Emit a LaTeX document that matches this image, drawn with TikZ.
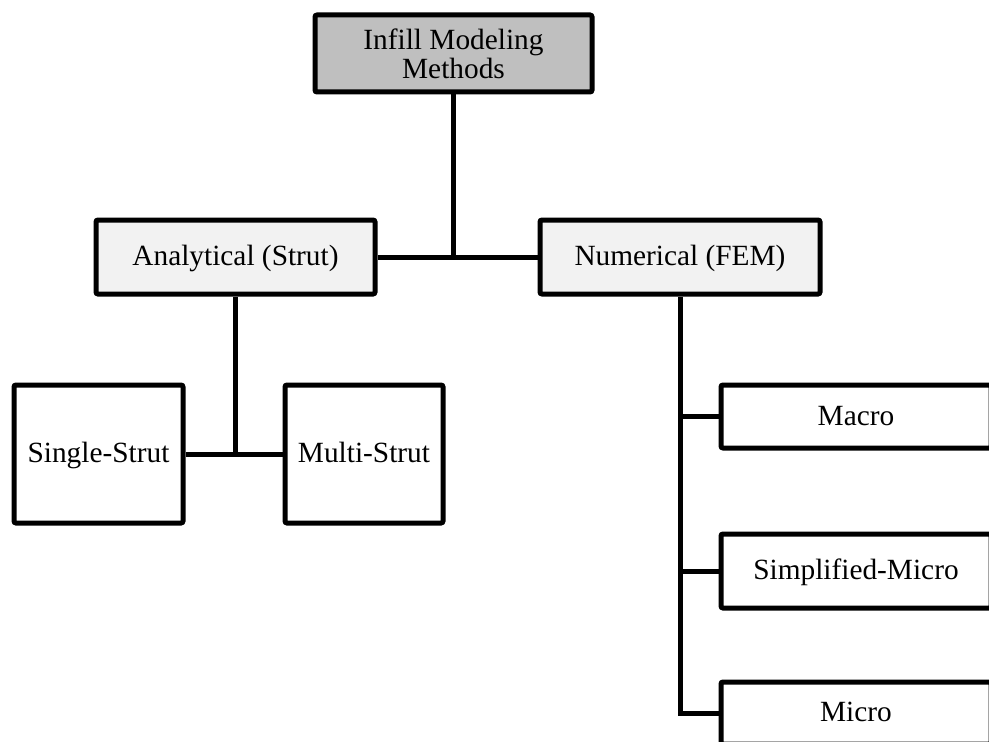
\documentclass[tikz,border=0pt]{standalone}
\usepackage{fontspec}
\setmainfont{Liberation Serif}
\definecolor{topgray}{RGB}{191,191,191}
\definecolor{midgray}{RGB}{242,242,242}
\begin{document}
\begin{tikzpicture}[x=0.75pt,y=-0.75pt,
  box/.style={draw=black, line width=3.75pt, rounded corners=1.5pt, fill=white,
    inner sep=0pt, align=center, font=\fontsize{22}{22}\selectfont},
  oneline/.style={text height=15pt, text depth=2.2pt},
  conn/.style={draw=black, line width=3.75pt}]
\useasboundingbox (0,0) rectangle (989,742);
\clip (0,0) rectangle (989,742);
\node[box, fill=topgray, minimum width=277*0.75pt, minimum height=77*0.75pt] (top) at (453.5,53.5) {Infill Modeling\\Methods};
\node[box, oneline, fill=midgray, minimum width=279*0.75pt, minimum height=74*0.75pt] (ana) at (235.5,257) {Analytical (Strut)};
\node[box, oneline, fill=midgray, minimum width=280*0.75pt, minimum height=74*0.75pt] (num) at (680,257) {Numerical (FEM)};
\node[box, oneline, minimum width=169*0.75pt, minimum height=138*0.75pt] (single) at (98.5,454) {Single-Strut};
\node[box, oneline, minimum width=158*0.75pt, minimum height=138*0.75pt] (multi) at (364,454) {Multi-Strut};
\node[box, oneline, minimum width=270*0.75pt, minimum height=63*0.75pt] (macro) at (856,416.5) {Macro};
\node[box, oneline, minimum width=270*0.75pt, minimum height=74*0.75pt] (simp) at (856,571) {Simplified-Micro};
\node[box, oneline, minimum width=270*0.75pt, minimum height=62*0.75pt] (micro) at (856,713) {Micro};
\coordinate (j1) at (top.south |- ana.east);
\coordinate (j2) at (ana.south |- single.east);
\draw[conn] (ana.east) -- (num.west);
\draw[conn] (top.south) -- (j1);
\draw[conn] (single.east) -- (multi.west);
\draw[conn] (ana.south) -- (j2);
\draw[conn] (num.south) |- (micro.west);
\draw[conn] (num.south |- macro.west) -- (macro.west);
\draw[conn] (num.south |- simp.west) -- (simp.west);
\end{tikzpicture}
\end{document}
